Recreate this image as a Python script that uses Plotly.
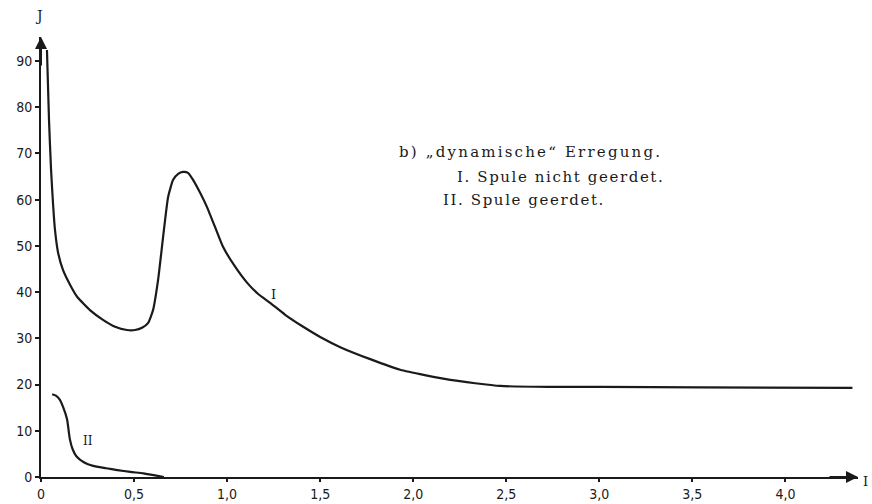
import plotly.graph_objects as go

# Curve I: Spule nicht geerdet
x_I = [0.032, 0.043, 0.054, 0.065, 0.075, 0.091, 0.118, 0.156, 0.194, 0.263, 0.333, 0.398, 0.462,
       0.505, 0.543, 0.575, 0.602, 0.629, 0.656, 0.683, 0.710, 0.737, 0.763, 0.790, 0.817, 0.855,
       0.892, 0.935, 0.978, 1.043, 1.108, 1.167, 1.231, 1.312, 1.409, 1.5, 1.608, 1.769, 1.930,
       2.199, 2.468, 2.737, 3.005, 3.54, 4.36]
y_I = [92.4, 77.3, 66.5, 58.9, 53.5, 48.7, 44.8, 41.6, 39.0, 36.1, 34.0, 32.5, 31.8,
       31.8, 32.3, 33.3, 36.1, 42.6, 51.9, 60.6, 64.3, 65.6, 66.0, 65.8, 64.3, 61.5,
       58.4, 54.1, 49.8, 45.5, 42.0, 39.6, 37.7, 35.1, 32.5, 30.3, 28.1, 25.5, 23.2,
       21.0, 19.7, 19.5, 19.5, 19.4, 19.3]

# Curve II: Spule geerdet
x_II = [0.06, 0.08, 0.10, 0.12, 0.14, 0.155, 0.17, 0.19, 0.23, 0.28, 0.35, 0.41, 0.48, 0.55, 0.62, 0.66]
y_II = [17.9, 17.6, 16.8, 15, 12.5, 8.2, 6, 4.5, 3.2, 2.4, 1.9, 1.5, 1.1, 0.8, 0.3, 0.0]

x_ticks = [0, 0.5, 1.0, 1.5, 2.0, 2.5, 3.0, 3.5, 4.0]
x_tick_labels = ["0", "0,5", "1,0", "1,5", "2,0", "2,5", "3,0", "3,5", "4,0"]
y_ticks = [0, 10, 20, 30, 40, 50, 60, 70, 80, 90]

legend_lines = ["b) „dynamische“ Erregung.", "I. Spule nicht geerdet.", "II. Spule geerdet."]

X_MAX = 4.39
Y_MAX = 95.2
INK = "#1a1a1a"

fig = go.Figure()
for xs, ys in ((x_I, y_I), (x_II, y_II)):
    fig.add_trace(go.Scatter(x=xs, y=ys, mode="lines",
                             line=dict(color=INK, width=2.2, shape="spline", smoothing=0.5),
                             hoverinfo="skip", cliponaxis=False))

tick_font = dict(family="DejaVu Sans Condensed, Liberation Sans Narrow, Arial Narrow, sans-serif",
                 size=14, color=INK)

fig.update_xaxes(range=[0, X_MAX], tickvals=x_ticks, ticktext=x_tick_labels, showgrid=False, zeroline=False,
                 showline=True, linecolor=INK, linewidth=2, ticks="outside", ticklen=3, tickwidth=1.5,
                 tickcolor=INK, tickfont=tick_font, automargin=False)
fig.update_yaxes(range=[0, Y_MAX], tickvals=y_ticks, showgrid=False, zeroline=False,
                 showline=True, linecolor=INK, linewidth=2, ticks="outside", ticklen=4, tickwidth=1.5,
                 tickcolor=INK, tickfont=tick_font, automargin=False)

serif = "DejaVu Serif, Liberation Serif, serif"
anns = []
# axis arrowheads
anns.append(dict(x=0, y=Y_MAX, xref="x", yref="y", ax=0, ay=30, text="", showarrow=True,
                 arrowhead=2, arrowsize=1.2, arrowwidth=2, arrowcolor=INK))
anns.append(dict(x=X_MAX, y=0, xref="x", yref="y", ax=-30, ay=0, text="", showarrow=True,
                 arrowhead=2, arrowsize=1.2, arrowwidth=2, arrowcolor=INK))
# axis symbols
anns.append(dict(x=0, y=Y_MAX, xref="x", yref="y", yshift=21, xshift=-2, text="J", showarrow=False,
                 font=dict(family=serif, size=14, color=INK)))
anns.append(dict(x=X_MAX, y=0, xref="x", yref="y", xshift=7, yshift=-4, text="I", showarrow=False,
                 font=dict(family=serif, size=13, color=INK)))
# curve labels
anns.append(dict(x=1.25, y=39.5, xref="x", yref="y", text="I", showarrow=False,
                 font=dict(family=serif, size=13, color=INK)))
anns.append(dict(x=0.25, y=7.8, xref="x", yref="y", text="II", showarrow=False,
                 font=dict(family=serif, size=12, color=INK)))
# description text
legend_pos = [(1.914, 70.3), (2.226, 65.0), (2.15, 60.0)]
legend_spacing = ["2.2px", "1.6px", "1.6px"]
for txt, (lx, ly), sp in zip(legend_lines, legend_pos, legend_spacing):
    anns.append(dict(x=lx, y=ly, xref="x", yref="y",
                     text='<span style="letter-spacing:' + sp + '">' + txt + '</span>',
                     showarrow=False, xanchor="left",
                     font=dict(family=serif, size=15, color=INK)))

fig.update_layout(width=872, height=504, margin=dict(l=41, r=14, t=37, b=27),
                  plot_bgcolor="white", paper_bgcolor="white", showlegend=False,
                  annotations=anns)

fig.write_html("out.html", config={"displayModeBar": False},
               post_script="document.body.style.margin='0';document.body.style.overflow='hidden';")
